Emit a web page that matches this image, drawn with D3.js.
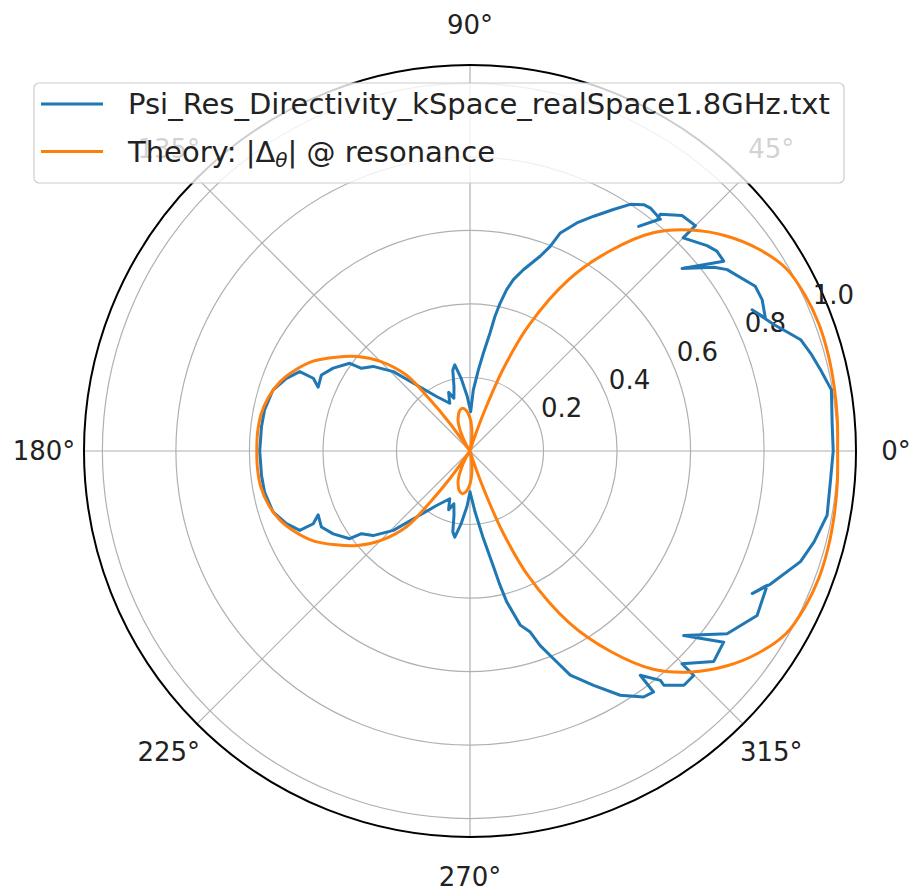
<!DOCTYPE html>
<html>
<head>
<meta charset="utf-8">
<script src="https://cdn.jsdelivr.net/npm/d3@7"></script>
<style>
  body { margin: 0; background: #fff; }
  svg { display: block; font-family: "DejaVu Sans", sans-serif; }
</style>
</head>
<body>
<svg id="chart" width="912" height="893"></svg>
<script>
// measured pattern, points in drawing order (angle deg, normalised |D|)
const measAngle = [
  0, 4.4, 9.6, 13, 16, 18.6, 20.3, 22.6, 26.6, 24.2, 27.4, 30, 35.2, 37, 40.7, 36.8, 39, 40.9,
  45, 45, 48, 51.2, 51, 53.1, 50.6, 53.4, 54.8, 57, 59.3, 62.2, 64.9, 67.5, 68.6, 70.2, 73.6,
  75.8, 77.2, 78.5, 79.5, 80.4, 82.2, 84.1, 86.9, 89, 93, 97, 100, 102, 104, 107, 110, 113,
  121.5, 129, 134, 138.9, 142.7, 143.9, 148.8, 152.9, 157.2, 155.1, 155, 158.4, 162.8, 168.7,
  173.3, 180,
  186.7, 191.3, 197.2, 201.6, 205, 204.9, 202.8, 207.1, 211.2, 216.1, 217.3, 221.1, 226, 231,
  238.5, 247, 250, 253, 256, 258, 260, 263, 267, 270,
  274.7, 278.7, 281.1, 282.6, 283.7, 286.1, 288.4, 289.8, 291.9, 294.1, 297.8, 301.6, 305.2,
  307.3, 307.2, 309.7, 309.6, 312.4, 314.9, 314.9, 319.2, 323, 319.2, 324.6, 330.2, 335.7,
  333.2, 336, 341.5, 345.2, 349.8, 355.7
];
const measR = [
  0.988, 0.988, 0.997, 0.979, 0.964, 0.949, 0.925, 0.895, 0.858, 0.881, 0.895, 0.896, 0.856, 0.831, 0.761, 0.862, 0.864, 0.853,
  0.82, 0.867, 0.862, 0.826, 0.809, 0.764, 0.816, 0.823, 0.82, 0.80, 0.764, 0.722, 0.685, 0.642, 0.598, 0.563, 0.514,
  0.481, 0.45, 0.41, 0.372, 0.325, 0.269, 0.222, 0.166, 0.107, 0.15, 0.2, 0.238, 0.225, 0.18, 0.15, 0.17, 0.141,
  0.174, 0.231, 0.30, 0.35, 0.371, 0.405, 0.435, 0.454, 0.448, 0.47, 0.511, 0.537, 0.561, 0.57,
  0.571, 0.572,
  0.571, 0.57, 0.561, 0.537, 0.511, 0.47, 0.448, 0.454, 0.435, 0.405, 0.371, 0.35, 0.30, 0.231,
  0.174, 0.141, 0.17, 0.15, 0.18, 0.225, 0.238, 0.2, 0.15, 0.111,
  0.166, 0.241, 0.307, 0.374, 0.423, 0.493, 0.519, 0.562, 0.609, 0.668, 0.721, 0.78, 0.819,
  0.824, 0.766, 0.811, 0.827, 0.863, 0.862, 0.817, 0.876, 0.864, 0.768, 0.858, 0.9, 0.887,
  0.86, 0.893, 0.948, 0.968, 0.987, 0.984
];

// theory |Δθ| at resonance
const theoryAngle = [
  0, 5, 10, 15, 20, 25, 30, 35, 40, 45, 50, 55, 60, 65, 68, 70, 72, 75, 79, 82, 86, 90, 95, 100,
  105, 110, 113, 117, 121, 124, 126, 128, 130, 135, 140, 145, 150, 155, 160, 165, 170, 175, 180,
  185, 190, 195, 200, 205, 210, 215, 220, 225, 230, 232, 234, 236, 239, 243, 247, 250, 255, 260,
  265, 270, 274, 278, 281, 285, 288, 290, 292, 295, 300, 305, 310, 315, 320, 325, 330, 335, 340,
  345, 350, 355
];
const theoryR = [
  1.0, 1.003, 1.006, 1.009, 1.01, 1.005, 0.993, 0.958, 0.91, 0.85, 0.775, 0.665, 0.54, 0.375, 0.24, 0.12, 0.03, 0.0, 0.015, 0.035, 0.065, 0.09, 0.11, 0.118,
  0.112, 0.095, 0.08, 0.05, 0.02, 0.0, 0.09, 0.18, 0.27, 0.345, 0.40, 0.445, 0.49, 0.523, 0.55, 0.567, 0.577, 0.58, 0.58,
  0.58, 0.577, 0.567, 0.55, 0.523, 0.49, 0.445, 0.40, 0.345, 0.27, 0.18, 0.09, 0.0, 0.02, 0.05, 0.08, 0.095, 0.112, 0.118,
  0.11, 0.09, 0.065, 0.035, 0.015, 0.0, 0.03, 0.12, 0.24, 0.375, 0.54, 0.665, 0.775, 0.85, 0.91, 0.958, 0.993, 1.005, 1.01,
  1.009, 1.006, 1.003
];

const rTicks = [0.2, 0.4, 0.6, 0.8, 1.0];
const thetaTicks = [0, 45, 90, 135, 180, 225, 270, 315];
const seriesNames = ['Psi_Res_Directivity_kSpace_realSpace1.8GHz.txt', 'Theory'];
const colors = ['#1f77b4', '#ff7f0e'];

const cx = 470, cy = 451, R = 386;
const svg = d3.select('#chart');
const g = svg.append('g').attr('transform', `translate(${cx},${cy})`);

const r = d3.scaleLinear().domain([0, 1.05]).range([0, R]);
const rad = (deg) => (90 - deg) * Math.PI / 180; // math angle -> d3 radial angle

// grid
g.selectAll('circle.ring').data(rTicks).join('circle').classed('ring', true)
  .attr('r', (d) => r(d)).attr('fill', 'none').attr('stroke', '#b0b0b0').attr('stroke-width', 1.2);

g.selectAll('line.spoke').data(thetaTicks).join('line').classed('spoke', true)
  .attr('x1', 0).attr('y1', 0)
  .attr('x2', (d) => R * Math.cos(d * Math.PI / 180))
  .attr('y2', (d) => -R * Math.sin(d * Math.PI / 180))
  .attr('stroke', '#b0b0b0').attr('stroke-width', 1.2);

g.append('circle').attr('r', R).attr('fill', 'none').attr('stroke', '#000').attr('stroke-width', 2);

// angle labels
const labR = 426;
g.selectAll('text.theta').data(thetaTicks).join('text').classed('theta', true)
  .attr('x', (d) => labR * Math.cos(d * Math.PI / 180))
  .attr('y', (d) => -labR * Math.sin(d * Math.PI / 180) + 8.5)
  .attr('text-anchor', 'middle')
  .attr('font-size', 26).attr('fill', '#222')
  .text((d) => `${d}°`);

// radial labels at 22.5 deg
const la = 22.5 * Math.PI / 180;
g.selectAll('text.rlab').data(rTicks).join('text').classed('rlab', true)
  .attr('x', (d) => r(d) * Math.cos(la) + 3)
  .attr('y', (d) => -r(d) * Math.sin(la) - 6)
  .attr('font-size', 26).attr('fill', '#222')
  .text((d) => d.toFixed(1));

// curves
const meas = measAngle.map((a, i) => ({ a, v: measR[i] }));
const theory = theoryAngle.map((a, i) => ({ a, v: theoryR[i] }));

const measLine = d3.lineRadial().angle((d) => rad(d.a)).radius((d) => r(d.v)).curve(d3.curveLinearClosed);
const theoryLine = d3.lineRadial().angle((d) => rad(d.a)).radius((d) => r(d.v))
  .curve(d3.curveCatmullRomClosed.alpha(0.5));

g.append('path').datum(meas).attr('d', measLine)
  .attr('fill', 'none').attr('stroke', colors[0]).attr('stroke-width', 3).attr('stroke-linejoin', 'round');
g.append('path').datum(theory).attr('d', theoryLine)
  .attr('fill', 'none').attr('stroke', colors[1]).attr('stroke-width', 3);

// legend
const leg = svg.append('g').attr('transform', 'translate(34,83)');
leg.append('rect').attr('width', 810).attr('height', 100).attr('rx', 5)
  .attr('fill', '#fff').attr('fill-opacity', 0.8).attr('stroke', '#cccccc').attr('stroke-width', 1.2);

seriesNames.forEach((name, i) => {
  const y = 21 + i * 47.5;
  leg.append('line').attr('x1', 7).attr('x2', 69).attr('y1', y).attr('y2', y)
    .attr('stroke', colors[i]).attr('stroke-width', 3);
  const t = leg.append('text').attr('x', 94).attr('y', y + 10).attr('font-size', 29).attr('fill', '#222');
  if (i === 0) {
    t.text(name);
  } else {
    t.append('tspan').text('Theory: |Δ');
    t.append('tspan').attr('font-size', 20).attr('font-style', 'italic').attr('dy', 5).text('θ');
    t.append('tspan').attr('dy', -5).text('| @ resonance');
  }
});
</script>
</body>
</html>
